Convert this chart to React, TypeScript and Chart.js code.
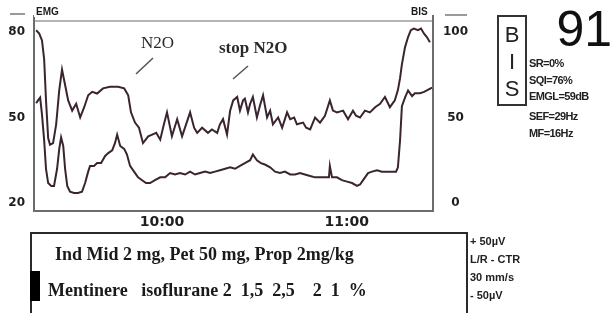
import React, { useEffect, useRef } from "react";
import { Chart, registerables } from "chart.js";

Chart.register(...registerables);

// ---- axis ticks ----
const timeTicks = [60, 120]; // minutes after 09:00
const timeTickLabels = ["10:00", "11:00"];
const emgTicks = [20, 50, 80];
const bisTicks = [0, 50, 100];

// ---- BIS trend (right axis) ----
const bisTimes = [
  19.1, 20.1, 21.0, 21.7, 22.3, 23.0, 23.6, 24.6, 25.6, 26.6,
  27.5, 28.5, 29.5, 30.8, 32.1, 33.4, 34.7, 36.0, 37.3, 38.9,
  40.8, 43.1, 45.7, 47.7, 49.0, 49.9, 51.2, 52.5, 53.8, 55.5,
  56.8, 58.1, 59.4, 60.6, 61.6, 63.2, 64.9, 66.5, 67.8, 69.1,
  70.4, 71.4, 73.0, 74.9, 76.2, 77.9, 78.8, 79.8, 81.1, 82.1,
  83.1, 84.4, 85.3, 86.3, 86.9, 87.9, 88.6, 89.5, 90.8, 91.8,
  92.8, 94.1, 95.1, 96.0, 97.7, 99.0, 100.6, 101.6, 102.9, 103.8,
  105.8, 106.8, 108.1, 109.7, 111.3, 112.9, 114.5, 115.5, 116.8, 118.8,
  120.4, 122.0, 123.0, 124.3, 125.9, 127.5, 129.2, 130.8, 132.4, 134.0,
  135.6, 136.6, 137.3, 137.9, 138.9, 139.9, 140.8, 141.8, 143.1, 144.1,
  145.1, 146.0, 147.0,
];
const bisValues = [
  101, 99, 95, 84, 60, 38, 34, 35, 46, 66,
  78, 69, 60, 54, 58, 50, 56, 63, 65, 64,
  67, 68, 68, 67, 63, 53, 47, 44, 35, 39,
  40, 41, 37, 46, 53, 39, 49, 39, 46, 53,
  44, 41, 44, 41, 43, 41, 46, 49, 40, 54,
  60, 62, 54, 60, 61, 53, 58, 62, 50, 57,
  63, 50, 54, 46, 50, 44, 53, 49, 50, 46,
  47, 44, 43, 50, 47, 51, 60, 54, 53, 54,
  49, 54, 51, 50, 54, 53, 56, 58, 62, 56,
  60, 66, 73, 81, 91, 97, 101, 102, 101, 102,
  99, 97, 94,
];

// ---- EMG trend (left axis, dB) ----
const emgTimes = [
  19.1, 19.7, 20.4, 21.0, 21.7, 22.3, 23.0, 24.0, 24.9, 25.9,
  26.6, 27.2, 27.9, 28.5, 29.2, 30.1, 31.4, 32.7, 34.0, 35.0,
  36.0, 36.6, 37.9, 38.9, 40.2, 41.5, 42.5, 43.8, 44.7, 45.4,
  46.4, 47.7, 48.6, 49.6, 50.9, 52.2, 53.5, 54.8, 56.1, 57.7,
  59.4, 61.0, 62.6, 64.2, 65.8, 67.5, 69.1, 70.7, 72.3, 74.0,
  75.6, 77.2, 78.8, 80.5, 82.1, 83.7, 85.3, 86.9, 88.6, 89.5,
  90.8, 92.1, 93.4, 95.1, 96.7, 98.3, 99.9, 101.6, 103.2, 104.8,
  106.4, 108.1, 109.7, 111.3, 112.9, 114.2, 114.5, 115.2, 116.8, 118.4,
  120.1, 121.7, 123.3, 124.3, 125.3, 126.9, 128.2, 129.8, 131.4, 133.1,
  135.0, 136.0, 136.6, 137.3, 137.9, 138.9, 139.9, 141.2, 142.1, 143.8,
  145.1, 146.0, 147.7,
];
const emgValues = [
  55, 56, 57, 51, 42, 32, 27, 26, 26, 32,
  39, 43, 40, 32, 26, 24, 23.5, 23.5, 24, 27,
  31, 33, 33, 34, 34, 36.5, 37.5, 38.5, 41, 44,
  40, 39, 37, 33, 31, 29, 28, 27, 27, 28,
  29, 29, 30.5, 30, 30.5, 30, 31, 30, 30.5, 31,
  30.5, 31, 31.5, 32, 32.5, 32, 33, 34, 35, 37,
  35, 34, 33.5, 32.5, 31, 30.5, 31, 30, 30, 30.5,
  30, 29.5, 29, 29, 29, 29, 33, 29, 29, 28,
  27.5, 27, 26, 26.5, 28, 30.5, 31, 31.5, 31, 31,
  31, 31, 32.5, 42, 54, 57, 59.5, 57.5, 58.5, 58.5,
  59, 59.5, 60.5,
];

// ---- monitor texts ----
const bisNumber = "91";
const statLines = ["SR=0%", "SQI=76%", "EMGL=59dB", "SEF=29Hz", "MF=16Hz"];
const noteLines = ["Ind Mid 2 mg, Pet 50 mg, Prop 2mg/kg", "Mentinere   isoflurane 2  1,5  2,5    2  1  %"];
const scaleLines = ["+ 50\u00b5V", "L/R - CTR", "30 mm/s", "- 50\u00b5V"];

const LINE = "#3a2430";
const TICK_FONT = { family: "'DejaVu Sans', sans-serif", size: 12, weight: "bold" as const };

const framePlugin = {
  id: "monitorFrame",
  beforeDatasetsDraw(chart: any) {
    const { ctx, chartArea: a } = chart;
    ctx.save();
    ctx.lineWidth = 2;
    ctx.strokeStyle = "#b4b4b4";
    ctx.beginPath();
    ctx.moveTo(a.left, a.top);
    ctx.lineTo(a.right, a.top);
    ctx.stroke();
    ctx.strokeStyle = "#6c6c6c";
    ctx.beginPath();
    ctx.moveTo(a.left, a.top - 6);
    ctx.lineTo(a.left, a.bottom);
    ctx.lineTo(a.right, a.bottom);
    ctx.lineTo(a.right, a.top - 6);
    ctx.stroke();
    ctx.restore();
  },
};

function TrendChart() {
  const ref = useRef<HTMLCanvasElement | null>(null);
  useEffect(() => {
    if (!ref.current) return;
    const chart = new Chart(ref.current, {
      type: "line",
      data: {
        datasets: [
          {
            label: "BIS",
            data: bisTimes.map((t, i) => ({ x: t, y: bisValues[i] })),
            yAxisID: "yBis",
            borderColor: LINE,
            borderWidth: 2,
            pointRadius: 0,
            tension: 0,
          },
          {
            label: "EMG",
            data: emgTimes.map((t, i) => ({ x: t, y: emgValues[i] })),
            yAxisID: "yEmg",
            borderColor: LINE,
            borderWidth: 2,
            pointRadius: 0,
            tension: 0,
          },
        ],
      },
      options: {
        animation: false,
        responsive: false,
        maintainAspectRatio: false,
        layout: { padding: { top: 21, left: 0, right: 0, bottom: 0 } },
        plugins: { legend: { display: false }, tooltip: { enabled: false } },
        scales: {
          x: {
            type: "linear",
            min: 18.4,
            max: 148,
            grid: { display: false, drawTicks: false },
            border: { display: false },
            afterBuildTicks: (s: any) => {
              s.ticks = timeTicks.map((v) => ({ value: v }));
            },
            afterFit: (s: any) => {
              s.height = 102;
            },
            ticks: {
              autoSkip: false,
              maxRotation: 0,
              padding: 3,
              color: "#1e1e1e",
              font: { family: "'DejaVu Sans', sans-serif", size: 14, weight: "bold" },
              callback: (v: any) => {
                const i = timeTicks.indexOf(Number(v));
                return i >= 0 ? timeTickLabels[i] : "";
              },
            },
          },
          yEmg: {
            type: "linear",
            position: "left",
            min: 17.19,
            max: 83.86,
            grid: { display: false, drawTicks: false },
            border: { display: false },
            afterBuildTicks: (s: any) => {
              s.ticks = emgTicks.map((v) => ({ value: v }));
            },
            afterFit: (s: any) => {
              s.width = 34;
            },
            ticks: { padding: 9, color: "#1e1e1e", font: TICK_FONT },
          },
          yBis: {
            type: "linear",
            position: "right",
            min: -4.68,
            max: 106.4,
            grid: { display: false, drawTicks: false },
            border: { display: false },
            afterBuildTicks: (s: any) => {
              s.ticks = bisTicks.map((v) => ({ value: v }));
            },
            afterFit: (s: any) => {
              s.width = 616 - 433;
            },
            ticks: { padding: 10, crossAlign: "center", color: "#1e1e1e", font: TICK_FONT },
          },
        },
      } as any,
      plugins: [framePlugin],
    });
    return () => chart.destroy();
  }, []);
  return <canvas ref={ref} width={616} height={313} style={{ display: "block", width: 616, height: 313 }} />;
}

const abs = (left: number, top: number, extra: React.CSSProperties = {}): React.CSSProperties => ({
  position: "absolute",
  left,
  top,
  whiteSpace: "pre",
  ...extra,
});

const sansBold = "'Liberation Sans', Arial, sans-serif";
const serif = "'Liberation Serif', 'Times New Roman', serif";

export default function App() {
  return (
    <div
      style={{
        position: "fixed",
        left: 0,
        top: 0,
        width: 616,
        height: 313,
        overflow: "hidden",
        background: "#fff",
        color: "#1a1a1a",
      }}
    >
      <TrendChart />

      {/* axis titles on the frame */}
      <div style={abs(10, 13, { width: 15, height: 2, background: "#9a9a9a" })} />
      <div style={abs(34, 7, { font: `bold 10px ${sansBold}`, lineHeight: "10px", background: "#fff", padding: "0 2px" })}>EMG</div>
      <div style={abs(409, 7, { font: `bold 10px ${sansBold}`, lineHeight: "10px", background: "#fff", padding: "0 2px" })}>BIS</div>
      <div style={abs(445, 14, { width: 22, height: 2, background: "#9a9a9a" })} />

      {/* annotations */}
      <div style={abs(141, 34, { font: `17px ${serif}`, lineHeight: "17px", color: "#2a2a2a" })}>N2O</div>
      <div style={abs(219, 39, { font: `bold 17px ${serif}`, lineHeight: "17px", color: "#2a2a2a" })}>stop N2O</div>
      <svg width={616} height={313} style={abs(0, 0, { pointerEvents: "none" })}>
        <line x1={153} y1={58} x2={136} y2={74} stroke="#555" strokeWidth={1.5} />
        <line x1={248} y1={66} x2={233} y2={79} stroke="#555" strokeWidth={1.5} />
      </svg>

      {/* BIS panel */}
      <div
        style={abs(497, 15, {
          width: 30,
          height: 91,
          border: "2px solid #333",
          font: `22px ${sansBold}`,
          lineHeight: "27px",
          textAlign: "center",
          paddingTop: 4,
          boxSizing: "border-box",
          color: "#222",
        })}
      >
        <div>B</div>
        <div>I</div>
        <div>S</div>
      </div>
      <div style={abs(550, 4, { width: 62, textAlign: "right", font: `50px ${sansBold}`, lineHeight: "50px", color: "#111" })}>{bisNumber}</div>
      {statLines.map((s, i) => (
        <div
          key={s}
          style={abs(529, [58, 75, 91, 111, 128][i], {
            font: `bold 11px ${sansBold}`,
            lineHeight: "11px",
            letterSpacing: "-0.6px",
            color: "#222",
          })}
        >
          {s}
        </div>
      ))}

      {/* bottom note box */}
      <div
        style={abs(30, 232, {
          width: 438,
          height: 100,
          borderTop: "2px solid #2a2a2a",
          borderLeft: "2px solid #2a2a2a",
          borderRight: "2px solid #2a2a2a",
          boxSizing: "border-box",
        })}
      />
      <div style={abs(30, 271, { width: 10, height: 30, background: "#000" })} />
      <div style={abs(55, 245, { font: `bold 18px ${serif}`, lineHeight: "18px", color: "#1a1a1a" })}>{noteLines[0]}</div>
      <div style={abs(48, 281, { font: `bold 18px ${serif}`, lineHeight: "18px", color: "#1a1a1a" })}>{noteLines[1]}</div>
      {scaleLines.map((s, i) => (
        <div
          key={s}
          style={abs(470, 236 + i * 18, { font: `bold 11px ${sansBold}`, lineHeight: "11px", color: "#222" })}
        >
          {s}
        </div>
      ))}
    </div>
  );
}
